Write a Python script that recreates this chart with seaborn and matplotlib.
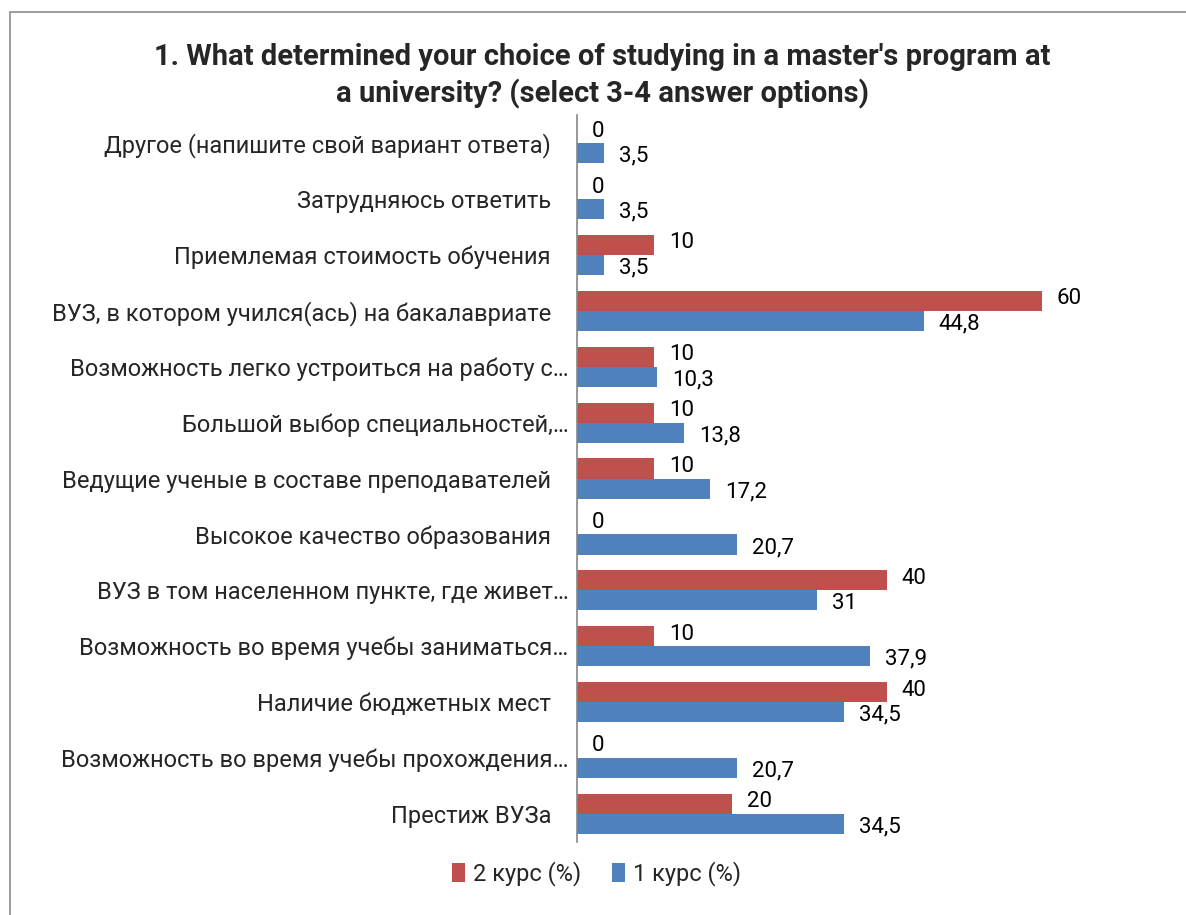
import pandas as pd
import seaborn as sns
import matplotlib.pyplot as plt
from matplotlib.patches import Rectangle

categories = [
    "Другое (напишите свой вариант ответа)   ",
    "Затрудняюсь ответить   ",
    "Приемлемая стоимость обучения   ",
    "ВУЗ, в котором учился(ась) на бакалавриате   ",
    "Возможность легко устроиться на работу с…",
    "Большой выбор специальностей,…",
    "Ведущие ученые в составе преподавателей   ",
    "Высокое качество образования   ",
    "ВУЗ в том населенном пункте, где живет…",
    "Возможность во время учебы заниматься…",
    "Наличие бюджетных мест   ",
    "Возможность во время учебы прохождения…",
    "Престиж ВУЗа   ",
]
course2 = [0, 0, 10, 60, 10, 10, 10, 0, 40, 10, 40, 0, 20]
course1 = [3.5, 3.5, 3.5, 44.8, 10.3, 13.8, 17.2, 20.7, 31, 37.9, 34.5, 20.7, 34.5]
series = ["2 курс (%)", "1 курс (%)"]
colors = ["#C0504D", "#4F81BD"]

df = pd.DataFrame({
    "cat": categories * 2,
    "val": course2 + course1,
    "course": [series[0]] * len(categories) + [series[1]] * len(categories),
})

sns.set_style("white")
plt.rcParams["font.family"] = ["Roboto", "DejaVu Sans"]

fig = plt.figure(figsize=(11.86, 9.15), dpi=100)
ax = fig.add_axes([0.4865, 0.080, 0.457, 0.794])

sns.barplot(data=df, x="val", y="cat", hue="course", hue_order=series,
            palette=colors, orient="h", width=0.72, ax=ax,
            saturation=1, edgecolor="none", legend=True)

# value labels: red ones nudged up a bit, blue ones down, as in the original
for cont, dy in zip(ax.containers, [2, -3]):
    for bar in cont:
        w = bar.get_width()
        txt = ("%g" % w).replace(".", ",")
        ax.annotate(txt, (w, bar.get_y() + bar.get_height() / 2),
                    xytext=(15, dy), textcoords="offset pixels",
                    ha="left", va="center", fontsize=16, color="black")

ax.set_xlim(0, 70)
ax.set_ylim(12.5, -0.5)
ax.set_xlabel("")
ax.set_ylabel("")
ax.set_xticks([])
ax.tick_params(axis="y", length=0, pad=6, labelsize=17)
for s in ["top", "right", "bottom"]:
    ax.spines[s].set_visible(False)
ax.spines["left"].set_color("#868686")
ax.spines["left"].set_linewidth(1.2)

handles, labels = ax.get_legend_handles_labels()
ax.get_legend().remove()
fig.legend(handles, labels, loc="center", bbox_to_anchor=(0.503, 0.045),
           ncol=2, frameon=False, fontsize=17, handlelength=0.55,
           handleheight=0.9, handletextpad=0.35, columnspacing=1.3)

fig.text(0.508, 0.917, "1. What determined your choice of studying in a master's program at\na university? (select 3-4 answer options)",
         ha="center", va="center", fontsize=21, fontweight="bold", linespacing=1.3)

fig.patches.append(Rectangle((0.0084, -0.05), 1.1, 0.037 + 1.0, transform=fig.transFigure,
                             fill=False, edgecolor="#8c8c8c", linewidth=1.2))

fig.savefig("out.png", dpi=100)
